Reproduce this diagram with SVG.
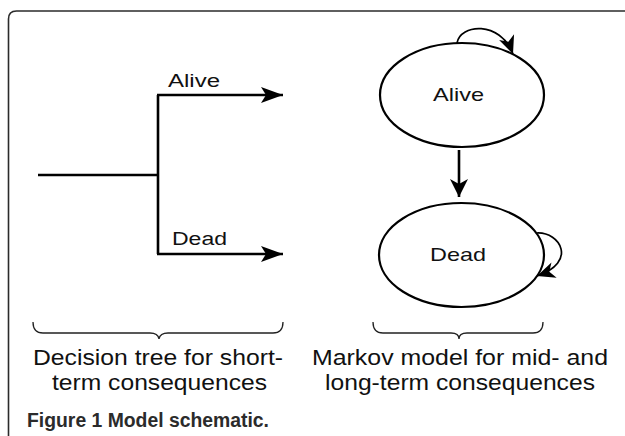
<svg xmlns="http://www.w3.org/2000/svg" width="625" height="436" viewBox="0 0 625 436">
<style>
.frame{fill:none;stroke:#2b2b2b;stroke-width:1.6}
.ln{fill:none;stroke:#000;stroke-width:2.6}
.el{fill:#fff;stroke:#000;stroke-width:2.2}
.loop{fill:none;stroke:#000;stroke-width:1.7}
.brace{fill:none;stroke:#222;stroke-width:1.3}
.t{font-family:"Liberation Sans",Arial,Helvetica,sans-serif;fill:#111}
.cap{font-family:"Liberation Sans",Arial,sans-serif;font-weight:bold;fill:#2b2b2b}
</style>
<defs>
<marker id="ah" markerUnits="userSpaceOnUse" markerWidth="24" markerHeight="18" viewBox="-23 -9 24 18" refX="0" refY="0" orient="auto"><path d="M0,0 L-22,-8 L-17,0 L-22,8 Z" fill="#000"/></marker>
<marker id="ah2" markerUnits="userSpaceOnUse" markerWidth="20" markerHeight="20" viewBox="-19 -10 20 20" refX="0" refY="0" orient="auto"><path d="M0,0 L-18,-9 L-13,0 L-18,9 Z" fill="#000"/></marker>
<marker id="ah3" markerUnits="userSpaceOnUse" markerWidth="20" markerHeight="18" viewBox="-19 -9 20 18" refX="0" refY="0" orient="auto"><path d="M0,0 L-18,-8 L-13,0 L-18,8 Z" fill="#000"/></marker>
</defs>
<path class="frame" d="M8.5,436 L8.5,19 Q8.5,11 16.5,11 L625,11"/>
<g id="connectors">
<path class="ln" d="M38,175 L158,175"/>
<path class="ln" d="M158,95 L158,254"/>
<path class="ln" d="M157,95 L283,95" marker-end="url(#ah)"/>
<path class="ln" d="M157,254 L283,254" marker-end="url(#ah)"/>
<path class="ln" d="M459,150 L459,197" marker-end="url(#ah2)"/>
<path class="loop" d="M457,43 C460,24 500,20 513,54" marker-end="url(#ah3)"/>
<path class="loop" d="M537,233 C560,232 578,262 537,276" marker-end="url(#ah3)"/>
</g>
<g id="tree-labels">
<text class="t" x="168" y="87" font-size="18" textLength="52" lengthAdjust="spacingAndGlyphs">Alive</text>
<text class="t" x="172" y="245" font-size="18" textLength="55" lengthAdjust="spacingAndGlyphs">Dead</text>
</g>
<g id="alive">
<ellipse class="el" cx="462" cy="95" rx="82" ry="52"/>
<text class="t" x="458.5" y="101" font-size="19" text-anchor="middle" textLength="51" lengthAdjust="spacingAndGlyphs">Alive</text>
</g>
<g id="dead">
<ellipse class="el" cx="461.5" cy="255" rx="82.5" ry="52"/>
<text class="t" x="458" y="261" font-size="19" text-anchor="middle" textLength="56" lengthAdjust="spacingAndGlyphs">Dead</text>
</g>
<g id="brace-left">
<path class="brace" d="M33,322 Q33,333 43,333 L150,333 Q158,333 159,339 Q160,333 168,333 L273,333 Q283,333 283,322"/>
<text class="t" x="158" y="365" font-size="21.5" text-anchor="middle" textLength="250" lengthAdjust="spacingAndGlyphs">Decision tree for short-</text>
<text class="t" x="159.5" y="390" font-size="21.5" text-anchor="middle" textLength="215" lengthAdjust="spacingAndGlyphs">term consequences</text>
</g>
<g id="brace-right">
<path class="brace" d="M373,322 Q373,333 383,333 L451,333 Q459,333 459,339 Q459,333 467,333 L533,333 Q543,333 543,322"/>
<text class="t" x="460" y="365" font-size="21.5" text-anchor="middle" textLength="296" lengthAdjust="spacingAndGlyphs">Markov model for mid- and</text>
<text class="t" x="460" y="390" font-size="21.5" text-anchor="middle" textLength="270" lengthAdjust="spacingAndGlyphs">long-term consequences</text>
</g>
<text class="cap" x="27" y="427" font-size="20" textLength="242" lengthAdjust="spacingAndGlyphs">Figure 1 Model schematic.</text>
</svg>
